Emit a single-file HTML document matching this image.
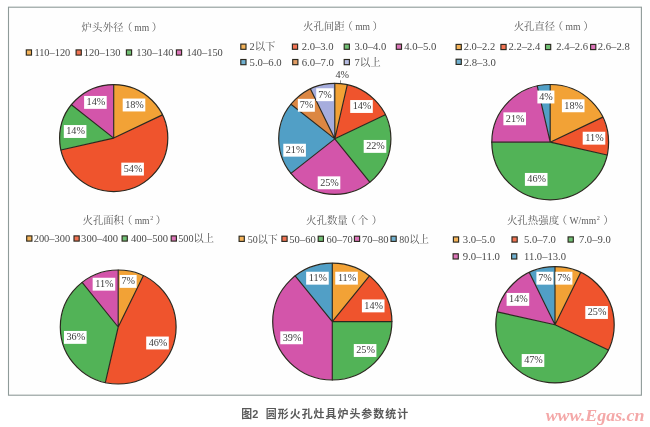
<!DOCTYPE html>
<html lang="zh"><head><meta charset="utf-8"><title>图2 圆形火孔灶具炉头参数统计</title>
<style>
html,body{margin:0;padding:0;background:#fff;}
body{width:650px;height:427px;overflow:hidden;position:relative;}
svg{display:block;position:absolute;left:0;top:0;filter:blur(0.35px);}
.tt{font-family:"Liberation Serif", "Noto Serif CJK SC", serif;font-size:10.4px;fill:#5c5c5c;}
.lg{font-family:"Liberation Serif", "Noto Serif CJK SC", serif;font-size:10.7px;fill:#4a4a4a;}
.lb{font-family:"Liberation Serif", "Noto Serif CJK SC", serif;font-size:10.2px;fill:#3c3c3c;}
.cap{font-family:"Liberation Sans", "Noto Sans CJK SC", sans-serif;font-size:10.9px;font-weight:bold;fill:#585858;}
.wm{font-family:"Liberation Serif", "Noto Serif CJK SC", serif;font-size:17px;font-weight:bold;font-style:italic;fill:#f4a8a8;}
</style></head><body>
<svg width="650" height="427" viewBox="0 0 650 427">
<rect x="0" y="0" width="650" height="427" fill="#ffffff"/>
<rect x="8.5" y="7.2" width="632.9" height="388" fill="#fefefe" stroke="#8f9b99" stroke-width="1.1"/>

<text class="tt"><tspan x="81.48 92.06 102.64 113.22" y="30.90">炉头外径</tspan><tspan x="122.01" y="30.90">（</tspan><tspan x="134.36" y="30.50" font-size="9.6">mm</tspan><tspan x="151.79" y="30.90">）</tspan></text>
<rect x="26.30" y="49.90" width="5.2" height="5.2" fill="#F4B35A" stroke="#2b281f" stroke-width="1.15"/>
<text x="34.40" y="56.30" class="lg" textLength="35.90" lengthAdjust="spacingAndGlyphs">110–120</text>
<rect x="76.10" y="49.90" width="5.2" height="5.2" fill="#F27353" stroke="#2b281f" stroke-width="1.15"/>
<text x="83.70" y="56.30" class="lg" textLength="36.80" lengthAdjust="spacingAndGlyphs">120–130</text>
<rect x="126.40" y="49.90" width="5.2" height="5.2" fill="#71C175" stroke="#2b281f" stroke-width="1.15"/>
<text x="136.20" y="56.30" class="lg" textLength="37.40" lengthAdjust="spacingAndGlyphs">130–140</text>
<rect x="176.40" y="49.90" width="5.2" height="5.2" fill="#DB74B9" stroke="#2b281f" stroke-width="1.15"/>
<text x="186.40" y="56.30" class="lg" textLength="36.40" lengthAdjust="spacingAndGlyphs">140–150</text>
<path d="M113.70 138.10L113.70 84.60A54.10 53.50 0 0 1 162.44 114.89Z" fill="#F2A236"/>
<path d="M113.70 138.10L162.44 114.89A54.10 53.50 0 1 1 60.96 150.00Z" fill="#EF542D"/>
<path d="M113.70 138.10L60.96 150.00A54.10 53.50 0 0 1 71.40 104.74Z" fill="#52B357"/>
<path d="M113.70 138.10L71.40 104.74A54.10 53.50 0 0 1 113.70 84.60Z" fill="#D355AA"/>
<path d="M113.70 138.10L113.70 84.60M113.70 138.10L162.44 114.89M113.70 138.10L60.96 150.00M113.70 138.10L71.40 104.74" fill="none" stroke="#2b281f" stroke-width="1.15" stroke-linecap="round"/>
<ellipse cx="113.70" cy="138.10" rx="54.10" ry="53.50" fill="none" stroke="#2b281f" stroke-width="1.2"/>
<rect x="122.70" y="98.55" width="22.60" height="12.90" fill="#ffffff"/>
<text x="134.50" y="107.95" text-anchor="middle" class="lb">18%</text>
<rect x="121.30" y="162.65" width="22.60" height="12.90" fill="#ffffff"/>
<text x="133.10" y="172.05" text-anchor="middle" class="lb">54%</text>
<rect x="63.80" y="125.05" width="22.60" height="12.90" fill="#ffffff"/>
<text x="75.60" y="134.45" text-anchor="middle" class="lb">14%</text>
<rect x="84.10" y="95.95" width="22.60" height="12.90" fill="#ffffff"/>
<text x="95.90" y="105.35" text-anchor="middle" class="lb">14%</text>
<text class="tt"><tspan x="302.98 313.43 323.87 334.32" y="30.30">火孔间距</tspan><tspan x="342.41" y="30.30">（</tspan><tspan x="355.16" y="29.90" font-size="9.6">mm</tspan><tspan x="372.59" y="30.30">）</tspan></text>
<rect x="240.80" y="44.10" width="5.2" height="5.2" fill="#F4B35A" stroke="#2b281f" stroke-width="1.15"/>
<text x="249.60" y="49.90" class="lg" textLength="25.80" lengthAdjust="spacingAndGlyphs">2以下</text>
<rect x="292.40" y="44.10" width="5.2" height="5.2" fill="#F27353" stroke="#2b281f" stroke-width="1.15"/>
<text x="301.70" y="49.90" class="lg" textLength="31.90" lengthAdjust="spacingAndGlyphs">2.0–3.0</text>
<rect x="344.20" y="44.10" width="5.2" height="5.2" fill="#71C175" stroke="#2b281f" stroke-width="1.15"/>
<text x="354.50" y="49.90" class="lg" textLength="31.80" lengthAdjust="spacingAndGlyphs">3.0–4.0</text>
<rect x="396.30" y="44.10" width="5.2" height="5.2" fill="#DB74B9" stroke="#2b281f" stroke-width="1.15"/>
<text x="404.20" y="49.90" class="lg" textLength="32.20" lengthAdjust="spacingAndGlyphs">4.0–5.0</text>
<rect x="240.80" y="59.50" width="5.2" height="5.2" fill="#70B0D0" stroke="#2b281f" stroke-width="1.15"/>
<text x="249.60" y="65.70" class="lg" textLength="32.10" lengthAdjust="spacingAndGlyphs">5.0–6.0</text>
<rect x="292.70" y="59.50" width="5.2" height="5.2" fill="#E29D65" stroke="#2b281f" stroke-width="1.15"/>
<text x="301.70" y="65.70" class="lg" textLength="32.30" lengthAdjust="spacingAndGlyphs">6.0–7.0</text>
<rect x="344.20" y="59.50" width="5.2" height="5.2" fill="#B6BCE3" stroke="#2b281f" stroke-width="1.15"/>
<text x="354.50" y="65.70" class="lg" textLength="26.10" lengthAdjust="spacingAndGlyphs">7以上</text>
<path d="M334.80 138.85L334.80 83.40A56.10 55.45 0 0 1 347.28 84.79Z" fill="#F2A236"/>
<path d="M334.80 138.85L347.28 84.79A56.10 55.45 0 0 1 385.34 114.79Z" fill="#EF542D"/>
<path d="M334.80 138.85L385.34 114.79A56.10 55.45 0 0 1 369.78 182.20Z" fill="#52B357"/>
<path d="M334.80 138.85L369.78 182.20A56.10 55.45 0 0 1 290.94 173.42Z" fill="#D355AA"/>
<path d="M334.80 138.85L290.94 173.42A56.10 55.45 0 0 1 290.94 104.28Z" fill="#519FC6"/>
<path d="M334.80 138.85L290.94 104.28A56.10 55.45 0 0 1 310.46 88.89Z" fill="#DC8743"/>
<path d="M334.80 138.85L310.46 88.89A56.10 55.45 0 0 1 334.80 83.40Z" fill="#A6ADDD"/>
<path d="M334.80 138.85L334.80 83.40M334.80 138.85L347.28 84.79M334.80 138.85L385.34 114.79M334.80 138.85L369.78 182.20M334.80 138.85L290.94 173.42M334.80 138.85L290.94 104.28M334.80 138.85L310.46 88.89" fill="none" stroke="#2b281f" stroke-width="1.15" stroke-linecap="round"/>
<ellipse cx="334.80" cy="138.85" rx="56.10" ry="55.45" fill="none" stroke="#2b281f" stroke-width="1.2"/>
<path d="M340.5 80.3L340.5 83.2" stroke="#777" stroke-width="0.8" fill="none"/>
<text x="342.30" y="77.55" text-anchor="middle" class="lb">4%</text>
<rect x="350.20" y="100.05" width="22.60" height="12.90" fill="#ffffff"/>
<text x="362.00" y="109.45" text-anchor="middle" class="lb">14%</text>
<rect x="363.70" y="139.95" width="22.60" height="12.90" fill="#ffffff"/>
<text x="375.50" y="149.35" text-anchor="middle" class="lb">22%</text>
<rect x="317.70" y="176.35" width="22.60" height="12.90" fill="#ffffff"/>
<text x="329.50" y="185.75" text-anchor="middle" class="lb">25%</text>
<rect x="283.30" y="143.75" width="22.60" height="12.90" fill="#ffffff"/>
<text x="295.10" y="153.15" text-anchor="middle" class="lb">21%</text>
<rect x="297.85" y="98.85" width="17.00" height="12.90" fill="#ffffff"/>
<text x="306.45" y="108.25" text-anchor="middle" class="lb">7%</text>
<rect x="316.20" y="88.25" width="17.40" height="12.90" fill="#ffffff"/>
<text x="325.00" y="97.65" text-anchor="middle" class="lb">7%</text>
<text class="tt"><tspan x="513.68 524.03 534.37 544.72" y="30.30">火孔直径</tspan><tspan x="552.71" y="30.30">（</tspan><tspan x="565.56" y="29.90" font-size="9.6">mm</tspan><tspan x="583.19" y="30.30">）</tspan></text>
<rect x="456.10" y="44.40" width="5.2" height="5.2" fill="#F4B35A" stroke="#2b281f" stroke-width="1.15"/>
<text x="463.70" y="50.30" class="lg" textLength="31.50" lengthAdjust="spacingAndGlyphs">2.0–2.2</text>
<rect x="500.90" y="44.40" width="5.2" height="5.2" fill="#F27353" stroke="#2b281f" stroke-width="1.15"/>
<text x="508.50" y="50.30" class="lg" textLength="31.80" lengthAdjust="spacingAndGlyphs">2.2–2.4</text>
<rect x="545.50" y="44.40" width="5.2" height="5.2" fill="#71C175" stroke="#2b281f" stroke-width="1.15"/>
<text x="556.20" y="50.30" class="lg" textLength="31.80" lengthAdjust="spacingAndGlyphs">2.4–2.6</text>
<rect x="590.60" y="44.40" width="5.2" height="5.2" fill="#DB74B9" stroke="#2b281f" stroke-width="1.15"/>
<text x="597.80" y="50.30" class="lg" textLength="31.90" lengthAdjust="spacingAndGlyphs">2.6–2.8</text>
<rect x="456.10" y="59.20" width="5.2" height="5.2" fill="#70B0D0" stroke="#2b281f" stroke-width="1.15"/>
<text x="463.70" y="65.60" class="lg" textLength="32.20" lengthAdjust="spacingAndGlyphs">2.8–3.0</text>
<path d="M550.20 142.15L550.20 84.50A58.40 57.65 0 0 1 602.82 117.14Z" fill="#F2A236"/>
<path d="M550.20 142.15L602.82 117.14A58.40 57.65 0 0 1 607.14 154.98Z" fill="#EF542D"/>
<path d="M550.20 142.15L607.14 154.98A58.40 57.65 0 0 1 491.80 142.15Z" fill="#52B357"/>
<path d="M550.20 142.15L491.80 142.15A58.40 57.65 0 0 1 537.20 85.95Z" fill="#D355AA"/>
<path d="M550.20 142.15L537.20 85.95A58.40 57.65 0 0 1 550.20 84.50Z" fill="#519FC6"/>
<path d="M550.20 142.15L550.20 84.50M550.20 142.15L602.82 117.14M550.20 142.15L607.14 154.98M550.20 142.15L491.80 142.15M550.20 142.15L537.20 85.95" fill="none" stroke="#2b281f" stroke-width="1.15" stroke-linecap="round"/>
<ellipse cx="550.20" cy="142.15" rx="58.40" ry="57.65" fill="none" stroke="#2b281f" stroke-width="1.2"/>
<rect x="561.90" y="99.35" width="22.60" height="12.90" fill="#ffffff"/>
<text x="573.70" y="108.75" text-anchor="middle" class="lb">18%</text>
<rect x="582.70" y="131.75" width="22.60" height="12.90" fill="#ffffff"/>
<text x="594.50" y="141.15" text-anchor="middle" class="lb">11%</text>
<rect x="524.90" y="172.95" width="22.60" height="12.90" fill="#ffffff"/>
<text x="536.70" y="182.35" text-anchor="middle" class="lb">46%</text>
<rect x="503.40" y="112.35" width="22.60" height="12.90" fill="#ffffff"/>
<text x="515.20" y="121.75" text-anchor="middle" class="lb">21%</text>
<rect x="537.40" y="90.55" width="17.00" height="12.90" fill="#ffffff"/>
<text x="546.00" y="99.95" text-anchor="middle" class="lb">4%</text>
<text class="tt"><tspan x="82.58 92.93 103.27 113.62" y="224.40">火孔面积</tspan><tspan x="122.01" y="224.40">（</tspan><tspan x="134.66" y="224.00" font-size="9.6">mm</tspan><tspan dx="0.6" dy="-3.6" font-size="6.2">2</tspan><tspan x="155.69" y="224.40">）</tspan></text>
<rect x="26.70" y="235.90" width="5.2" height="5.2" fill="#F4B35A" stroke="#2b281f" stroke-width="1.15"/>
<text x="33.70" y="242.30" class="lg" textLength="36.50" lengthAdjust="spacingAndGlyphs">200–300</text>
<rect x="74.00" y="235.90" width="5.2" height="5.2" fill="#F27353" stroke="#2b281f" stroke-width="1.15"/>
<text x="81.10" y="242.30" class="lg" textLength="37.00" lengthAdjust="spacingAndGlyphs">300–400</text>
<rect x="122.10" y="235.90" width="5.2" height="5.2" fill="#71C175" stroke="#2b281f" stroke-width="1.15"/>
<text x="131.00" y="242.30" class="lg" textLength="37.00" lengthAdjust="spacingAndGlyphs">400–500</text>
<rect x="171.20" y="235.90" width="5.2" height="5.2" fill="#DB74B9" stroke="#2b281f" stroke-width="1.15"/>
<text x="178.20" y="242.30" class="lg" textLength="35.80" lengthAdjust="spacingAndGlyphs">500以上</text>
<path d="M118.20 327.00L118.20 270.00A57.90 57.00 0 0 1 143.32 275.64Z" fill="#F2A236"/>
<path d="M118.20 327.00L143.32 275.64A57.90 57.00 0 0 1 105.32 382.57Z" fill="#EF542D"/>
<path d="M118.20 327.00L105.32 382.57A57.90 57.00 0 0 1 82.10 282.44Z" fill="#52B357"/>
<path d="M118.20 327.00L82.10 282.44A57.90 57.00 0 0 1 118.20 270.00Z" fill="#D355AA"/>
<path d="M118.20 327.00L118.20 270.00M118.20 327.00L143.32 275.64M118.20 327.00L105.32 382.57M118.20 327.00L82.10 282.44" fill="none" stroke="#2b281f" stroke-width="1.15" stroke-linecap="round"/>
<ellipse cx="118.20" cy="327.00" rx="57.90" ry="57.00" fill="none" stroke="#2b281f" stroke-width="1.2"/>
<rect x="119.65" y="274.95" width="17.00" height="12.90" fill="#ffffff"/>
<text x="128.25" y="284.35" text-anchor="middle" class="lb">7%</text>
<rect x="146.20" y="336.55" width="22.60" height="12.90" fill="#ffffff"/>
<text x="158.00" y="345.95" text-anchor="middle" class="lb">46%</text>
<rect x="64.00" y="330.95" width="22.60" height="12.90" fill="#ffffff"/>
<text x="75.80" y="340.35" text-anchor="middle" class="lb">36%</text>
<rect x="92.65" y="277.75" width="22.60" height="12.90" fill="#ffffff"/>
<text x="104.45" y="287.15" text-anchor="middle" class="lb">11%</text>
<text class="tt"><tspan x="306.08 316.49 326.91 337.32" y="224.10">火孔数量</tspan><tspan x="345.51" y="224.10">（</tspan><tspan x="357.68" y="224.10">个</tspan><tspan x="371.64" y="224.10">）</tspan></text>
<rect x="239.10" y="236.20" width="5.2" height="5.2" fill="#F4B35A" stroke="#2b281f" stroke-width="1.15"/>
<text x="247.70" y="242.60" class="lg" textLength="30.00" lengthAdjust="spacingAndGlyphs">50以下</text>
<rect x="281.90" y="236.20" width="5.2" height="5.2" fill="#F27353" stroke="#2b281f" stroke-width="1.15"/>
<text x="289.30" y="242.60" class="lg" textLength="26.40" lengthAdjust="spacingAndGlyphs">50–60</text>
<rect x="318.20" y="236.20" width="5.2" height="5.2" fill="#71C175" stroke="#2b281f" stroke-width="1.15"/>
<text x="326.50" y="242.60" class="lg" textLength="26.10" lengthAdjust="spacingAndGlyphs">60–70</text>
<rect x="354.40" y="236.20" width="5.2" height="5.2" fill="#DB74B9" stroke="#2b281f" stroke-width="1.15"/>
<text x="362.00" y="242.60" class="lg" textLength="26.50" lengthAdjust="spacingAndGlyphs">70–80</text>
<rect x="391.00" y="236.20" width="5.2" height="5.2" fill="#70B0D0" stroke="#2b281f" stroke-width="1.15"/>
<text x="399.30" y="242.60" class="lg" textLength="29.70" lengthAdjust="spacingAndGlyphs">80以上</text>
<path d="M332.30 321.60L332.30 263.20A59.60 58.40 0 0 1 369.46 275.94Z" fill="#F2A236"/>
<path d="M332.30 321.60L369.46 275.94A59.60 58.40 0 0 1 391.90 321.60Z" fill="#EF542D"/>
<path d="M332.30 321.60L391.90 321.60A59.60 58.40 0 0 1 332.30 380.00Z" fill="#52B357"/>
<path d="M332.30 321.60L332.30 380.00A59.60 58.40 0 0 1 295.14 275.94Z" fill="#D355AA"/>
<path d="M332.30 321.60L295.14 275.94A59.60 58.40 0 0 1 332.30 263.20Z" fill="#519FC6"/>
<path d="M332.30 321.60L332.30 263.20M332.30 321.60L369.46 275.94M332.30 321.60L391.90 321.60M332.30 321.60L332.30 380.00M332.30 321.60L295.14 275.94" fill="none" stroke="#2b281f" stroke-width="1.15" stroke-linecap="round"/>
<ellipse cx="332.30" cy="321.60" rx="59.60" ry="58.40" fill="none" stroke="#2b281f" stroke-width="1.2"/>
<rect x="335.25" y="271.75" width="22.60" height="12.90" fill="#ffffff"/>
<text x="347.05" y="281.15" text-anchor="middle" class="lb">11%</text>
<rect x="361.90" y="299.45" width="22.60" height="12.90" fill="#ffffff"/>
<text x="373.70" y="308.85" text-anchor="middle" class="lb">14%</text>
<rect x="353.80" y="344.05" width="22.60" height="12.90" fill="#ffffff"/>
<text x="365.60" y="353.45" text-anchor="middle" class="lb">25%</text>
<rect x="280.30" y="331.35" width="22.60" height="12.90" fill="#ffffff"/>
<text x="292.10" y="340.75" text-anchor="middle" class="lb">39%</text>
<rect x="306.15" y="271.75" width="22.60" height="12.90" fill="#ffffff"/>
<text x="317.95" y="281.15" text-anchor="middle" class="lb">11%</text>
<text class="tt"><tspan x="506.88 517.37 527.85 538.34 548.82" y="224.40">火孔热强度</tspan><tspan x="556.71" y="224.40">（</tspan><tspan x="569.56" y="224.00" font-size="9.6">W/mm</tspan><tspan dx="0.6" dy="-3.6" font-size="6.2">2</tspan><tspan x="603.29" y="224.40">）</tspan></text>
<rect x="453.40" y="236.90" width="5.2" height="5.2" fill="#F4B35A" stroke="#2b281f" stroke-width="1.15"/>
<text x="462.80" y="243.30" class="lg" textLength="32.20" lengthAdjust="spacingAndGlyphs">3.0–5.0</text>
<rect x="512.00" y="236.90" width="5.2" height="5.2" fill="#F27353" stroke="#2b281f" stroke-width="1.15"/>
<text x="524.00" y="243.30" class="lg" textLength="31.90" lengthAdjust="spacingAndGlyphs">5.0–7.0</text>
<rect x="568.10" y="236.90" width="5.2" height="5.2" fill="#71C175" stroke="#2b281f" stroke-width="1.15"/>
<text x="578.90" y="243.30" class="lg" textLength="31.80" lengthAdjust="spacingAndGlyphs">7.0–9.0</text>
<rect x="453.10" y="253.80" width="5.2" height="5.2" fill="#DB74B9" stroke="#2b281f" stroke-width="1.15"/>
<text x="462.80" y="260.20" class="lg" textLength="37.20" lengthAdjust="spacingAndGlyphs">9.0–11.0</text>
<rect x="511.60" y="253.80" width="5.2" height="5.2" fill="#70B0D0" stroke="#2b281f" stroke-width="1.15"/>
<text x="524.00" y="260.20" class="lg" textLength="42.00" lengthAdjust="spacingAndGlyphs">11.0–13.0</text>
<path d="M555.00 324.80L555.00 266.70A59.20 58.10 0 0 1 580.69 272.45Z" fill="#F2A236"/>
<path d="M555.00 324.80L580.69 272.45A59.20 58.10 0 0 1 608.34 350.01Z" fill="#EF542D"/>
<path d="M555.00 324.80L608.34 350.01A59.20 58.10 0 0 1 497.28 311.87Z" fill="#52B357"/>
<path d="M555.00 324.80L497.28 311.87A59.20 58.10 0 0 1 529.31 272.45Z" fill="#D355AA"/>
<path d="M555.00 324.80L529.31 272.45A59.20 58.10 0 0 1 555.00 266.70Z" fill="#519FC6"/>
<path d="M555.00 324.80L555.00 266.70M555.00 324.80L580.69 272.45M555.00 324.80L608.34 350.01M555.00 324.80L497.28 311.87M555.00 324.80L529.31 272.45" fill="none" stroke="#2b281f" stroke-width="1.15" stroke-linecap="round"/>
<ellipse cx="555.00" cy="324.80" rx="59.20" ry="58.10" fill="none" stroke="#2b281f" stroke-width="1.2"/>
<rect x="555.40" y="271.75" width="17.00" height="12.90" fill="#ffffff"/>
<text x="564.00" y="281.15" text-anchor="middle" class="lb">7%</text>
<rect x="585.30" y="306.05" width="22.60" height="12.90" fill="#ffffff"/>
<text x="597.10" y="315.45" text-anchor="middle" class="lb">25%</text>
<rect x="521.70" y="354.05" width="22.60" height="12.90" fill="#ffffff"/>
<text x="533.50" y="363.45" text-anchor="middle" class="lb">47%</text>
<rect x="506.60" y="292.95" width="22.60" height="12.90" fill="#ffffff"/>
<text x="518.40" y="302.35" text-anchor="middle" class="lb">14%</text>
<rect x="536.40" y="271.75" width="17.00" height="12.90" fill="#ffffff"/>
<text x="545.00" y="281.15" text-anchor="middle" class="lb">7%</text>
<text x="241.3" y="418.1" class="cap">图2</text>
<text x="265.8" y="418.1" class="cap" textLength="142.3" lengthAdjust="spacing">圆形火孔灶具炉头参数统计</text>
<text x="545.7" y="420.5" class="wm" textLength="98.8" lengthAdjust="spacingAndGlyphs">www.Egas.cn</text>
</svg>
</body></html>
